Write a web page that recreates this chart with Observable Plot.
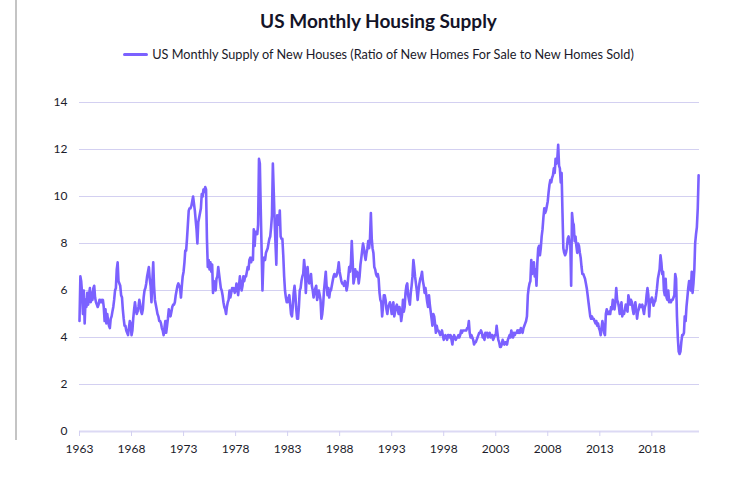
<!DOCTYPE html>
<html>
<head>
<meta charset="utf-8">
<script src="https://cdn.jsdelivr.net/npm/d3@7"></script>
<script src="https://cdn.jsdelivr.net/npm/@observablehq/plot@0.6"></script>
<style>
  html, body { margin: 0; padding: 0; background: #fff; }
  #wrap { position: relative; width: 743px; height: 490px; overflow: hidden; font-family: Lato, "Noto Sans", sans-serif; }
  #border { position: absolute; left: 15px; top: 0; width: 2px; height: 440px; background: #c4c4c4; }
  #title { position: absolute; left: 0; width: 757px; top: 9px; text-align: center; font-size: 19px; font-weight: 700; color: #141428; }
  #legend { position: absolute; left: 0; width: 757px; top: 46px; text-align: center; font-size: 12.7px; color: #1a1a2a; white-space: nowrap; }
  #legend .sw { display: inline-block; width: 25px; height: 3px; background: #7b61ff; vertical-align: middle; margin-right: 4px; position: relative; top: -1px; border-radius: 2px; }
  #chart { position: absolute; left: 0; top: 80px; }
</style>
</head>
<body>
<div id="wrap">
  <div id="border"></div>
  <div id="title">US Monthly Housing Supply</div>
  <div id="legend"><span class="sw"></span>US Monthly Supply of New Houses (Ratio of New Homes For Sale to New Homes Sold)</div>
  <div id="chart"></div>
</div>
<script>
// Monthly supply of new houses, seasonally adjusted, Jan 1963 onward (months)
const startYear = 1963;
const supply1960s = [
  4.7, 6.6, 6.4, 5.9, 5.0, 6.0, 4.6, 5.6, 5.3, 5.9, 5.4, 5.8,
  6.1, 5.5, 5.9, 5.6, 6.1, 6.2, 5.7, 5.5, 5.4, 5.3, 5.4, 5.6,
  5.5, 5.6, 5.5, 5.6, 5.3, 4.7, 5.2, 4.6, 5.0, 4.7, 4.5, 4.4,
  4.8, 4.9, 5.1, 5.3, 5.6, 6.0, 6.1, 6.9, 7.2, 6.4, 6.3, 6.2,
  5.8, 5.7, 5.2, 4.8, 4.5, 4.5, 4.3, 4.2, 4.1, 4.4, 4.7, 4.6,
  4.1, 4.3, 4.8, 5.2, 5.5, 5.2, 5.0, 5.1, 5.3, 5.6, 5.4, 5.1,
  5.0, 5.2, 5.7, 6.0, 6.1, 6.3, 6.6, 6.8, 7.0, 6.5, 6.2, 5.5
];
const supply1970s = [
  6.4, 7.2, 6.2, 5.6, 5.4, 5.2, 5.0, 4.9, 4.7, 4.7, 4.6, 4.4,
  4.3, 4.1, 4.4, 4.7, 4.2, 4.5, 4.8, 5.2, 5.0, 4.9, 5.1, 5.3,
  5.4, 5.4, 5.5, 5.8, 6.0, 6.2, 6.3, 6.2, 6.1, 5.7, 6.2, 6.6,
  6.8, 7.2, 7.7, 7.7, 8.2, 8.8, 9.4, 9.5, 9.5, 9.6, 9.8, 10.0,
  9.7, 9.4, 9.0, 8.6, 8.0, 8.9, 9.1, 9.3, 9.5, 10.1, 10.0, 10.3,
  10.2, 10.4, 10.3, 8.2, 7.0, 7.3, 6.9, 7.2, 6.8, 7.1, 5.9, 6.4,
  6.3, 6.0, 6.5, 6.6, 7.0, 6.7, 6.4, 6.1, 6.0, 5.8, 5.5, 5.3,
  5.2, 5.0, 5.3, 5.5, 5.6, 6.0, 5.7, 5.9, 6.1, 6.0, 6.1, 5.9,
  6.0, 6.3, 6.1, 5.8, 6.2, 6.6, 6.3, 6.0, 6.2, 6.6, 6.4, 6.6,
  6.6, 6.8, 7.0, 6.9, 7.3, 7.4, 7.2, 7.4, 7.3, 8.6, 7.9, 8.5
];
const supply1980s = [
  8.5, 8.4, 8.8, 11.6, 11.4, 9.5, 7.8, 6.0, 7.2, 7.4, 7.3, 7.6,
  7.7, 7.8, 8.0, 8.2, 8.3, 8.7, 9.2, 11.4, 10.2, 9.0, 8.0, 7.1,
  9.2, 9.0, 8.8, 9.4, 8.3, 8.2, 8.2, 7.5, 6.6, 6.0, 5.7, 5.5,
  5.5, 5.7, 5.8, 5.4, 5.0, 4.9, 5.3, 5.9, 6.2, 5.8, 5.2, 4.8,
  4.8, 5.3, 6.0, 6.1, 6.4, 6.6, 6.7, 7.3, 6.9, 5.9, 6.6, 7.0,
  6.5, 6.3, 6.4, 6.7, 6.2, 6.0, 5.7, 5.9, 6.1, 6.2, 5.6, 5.8,
  6.0, 5.8, 5.6, 4.8, 5.0, 5.4, 6.0, 6.4, 6.8, 6.2, 5.8, 6.1,
  5.7, 6.0, 6.0, 6.2, 6.4, 6.6, 6.7, 6.6, 6.6, 6.7, 6.9, 7.2,
  6.8, 6.6, 6.4, 6.3, 6.3, 6.2, 6.4, 6.3, 6.0, 6.2, 6.6, 7.0,
  6.8, 7.2, 8.1, 7.3, 6.3, 6.5, 6.9, 6.6, 6.8, 6.7, 6.3, 6.6
];
const supply1990s = [
  7.1, 7.4, 7.7, 8.0, 7.8, 7.5, 7.3, 7.6, 7.8, 8.1, 7.8, 8.2,
  9.3, 8.2, 7.8, 7.6, 7.0, 6.9, 6.7, 6.6, 6.7, 6.5, 5.9, 5.6,
  5.5, 4.9, 5.3, 5.8, 5.8, 5.6, 5.2, 5.0, 5.3, 5.4, 5.5, 5.3,
  5.0, 5.3, 5.5, 4.9, 5.1, 5.3, 5.4, 5.2, 5.0, 5.3, 5.1, 4.7,
  5.0, 5.6, 5.1, 5.3, 5.9, 6.2, 6.3, 5.8, 5.6, 5.4, 5.9, 6.2,
  6.6, 7.3, 7.0, 6.6, 6.3, 6.0, 5.6, 6.0, 6.3, 6.5, 6.6, 6.8,
  6.4, 6.2, 5.9, 6.1, 5.8, 5.5, 5.3, 5.8, 5.4, 5.1, 4.8, 4.5,
  5.0, 4.9, 4.6, 4.2, 4.5, 4.3, 4.3, 4.2, 4.1, 4.2, 4.3, 4.1,
  3.9, 4.0, 4.1, 4.0, 3.9, 4.1, 4.1, 4.0, 4.1, 3.9, 3.7, 4.0,
  4.1, 4.0, 3.9, 4.0, 4.0, 4.1, 4.0, 4.1, 4.3, 4.2, 4.3, 4.3
];
const supply2000s = [
  4.3, 4.3, 4.3, 4.4, 4.4, 4.7, 4.2, 4.0, 4.1, 4.0, 3.9, 3.7,
  3.8, 3.8, 3.9, 4.0, 4.1, 4.2, 4.2, 4.3, 4.2, 4.0, 4.1, 3.9,
  4.2, 4.1, 4.2, 4.0, 4.1, 4.2, 4.0, 4.1, 4.1, 3.9, 4.0, 4.1,
  4.1, 4.5, 4.2, 3.9, 3.8, 3.6, 3.6, 3.7, 3.9, 3.8, 3.7, 3.8,
  3.8, 3.7, 3.9, 4.0, 4.1, 4.0, 4.3, 4.1, 4.0, 4.2, 4.1, 4.2,
  4.2, 4.3, 4.2, 4.3, 4.2, 4.4, 4.3, 4.2, 4.4, 4.5, 4.6, 4.7,
  4.9, 5.8, 6.1, 6.3, 6.4, 7.3, 6.7, 6.9, 7.2, 6.6, 6.9, 6.2,
  7.2, 7.8, 7.9, 7.5, 7.8, 8.3, 8.6, 9.1, 9.5, 9.3, 9.4, 9.6,
  9.8, 10.2, 10.5, 10.7, 10.6, 10.8, 10.9, 11.2, 11.0, 11.6, 11.4, 11.6,
  12.2, 11.3, 11.2, 10.6, 11.0, 9.3, 7.8, 7.6, 7.5, 7.6, 7.8, 8.2
];
const supply2010s = [
  8.3, 8.0, 8.1, 6.2, 9.3, 8.9, 8.8, 8.1, 8.3, 7.9, 7.6, 8.0,
  7.9, 7.6, 7.4, 7.0, 6.7, 6.7, 6.6, 6.5, 6.3, 6.1, 5.8, 5.5,
  5.2, 4.9, 4.8, 4.9, 4.8, 4.8, 4.7, 4.6, 4.7, 4.5, 4.6, 4.4,
  4.3, 4.1, 4.4, 4.7, 4.5, 4.2, 4.1, 5.0, 5.2, 5.0, 5.0, 5.1,
  5.0, 5.3, 5.2, 5.6, 5.3, 5.2, 5.5, 6.1, 5.6, 5.5, 5.3, 5.0,
  5.3, 5.5, 4.9, 5.1, 5.0, 5.2, 5.4, 5.2, 5.1, 5.8, 5.6, 5.4,
  5.6, 5.5, 5.2, 5.0, 5.3, 5.5, 5.2, 4.8, 5.1, 5.2, 5.4, 5.3,
  5.3, 5.4, 5.2, 5.0, 5.3, 5.4, 5.8, 6.1, 5.8, 4.9, 5.6, 5.5,
  5.7, 5.6, 5.35, 5.5, 5.55, 5.8, 6.1, 6.5, 6.7, 6.9, 7.5, 7.2,
  6.7, 6.8, 6.0, 5.8, 6.5, 5.7, 5.6, 6.0, 5.5, 5.6, 5.5, 5.6
];
const supply2020s = [
  5.6, 5.7, 5.8, 6.7, 6.5, 4.9, 4.0, 3.4, 3.3, 3.4, 3.8, 4.1,
  4.1, 4.2, 4.9, 4.7, 5.3, 5.7, 6.1, 6.4, 6.1, 6.0, 6.8, 5.9,
  6.3, 6.9, 8.0, 8.4, 8.7, 9.5, 10.9
];
const tickYears = [1963, 1968, 1973, 1978, 1983, 1988, 1993, 1998, 2003, 2008, 2013, 2018];
const yTicks = [0, 2, 4, 6, 8, 10, 12, 14];
const seriesLabel = "US Monthly Supply of New Houses (Ratio of New Homes For Sale to New Homes Sold)";

const values = [].concat(supply1960s, supply1970s, supply1980s, supply1990s, supply2000s, supply2010s, supply2020s);
const data = values.map((v, i) => ({date: new Date(Date.UTC(startYear + Math.floor(i / 12), i % 12, 1)), value: v}));
const lastDate = data[data.length - 1].date;
const endDate = new Date(Date.UTC(lastDate.getUTCFullYear(), lastDate.getUTCMonth() + 1, 1));

const gridColor = "#d3d0f1";
const lineColor = "#7b61ff";

const chart = Plot.plot({
  width: 743,
  height: 410,
  marginTop: 22,
  marginBottom: 59,
  marginLeft: 79,
  marginRight: 44,
  style: {fontFamily: "Lato, 'Noto Sans', sans-serif", fontSize: "12px", color: "#1c1c2a", background: "transparent"},
  x: {type: "utc", domain: [data[0].date, endDate]},
  y: {domain: [0, 14]},
  marks: [
    Plot.gridY(yTicks.filter(d => d > 0), {stroke: gridColor, strokeOpacity: 1, strokeWidth: 1}),
    Plot.ruleY([0], {stroke: "#dcd9f4", strokeWidth: 2}),
    Plot.axisX(tickYears.map(y => new Date(Date.UTC(y, 0, 1))), {
      tickFormat: d3.utcFormat("%Y"), tickSize: 5, tickPadding: 8,
      stroke: "#d3d0f1", fill: "#1c1c2a", label: null, fontSize: 12
    }),
    Plot.axisY(yTicks, {tickSize: 0, tickPadding: 12, fill: "#1c1c2a", label: null, fontSize: 12}),
    Plot.lineY(data, {x: "date", y: "value", stroke: lineColor, strokeWidth: 2.6, strokeLinejoin: "round"})
  ]
});
document.getElementById("chart").appendChild(chart);
</script>
</body>
</html>
